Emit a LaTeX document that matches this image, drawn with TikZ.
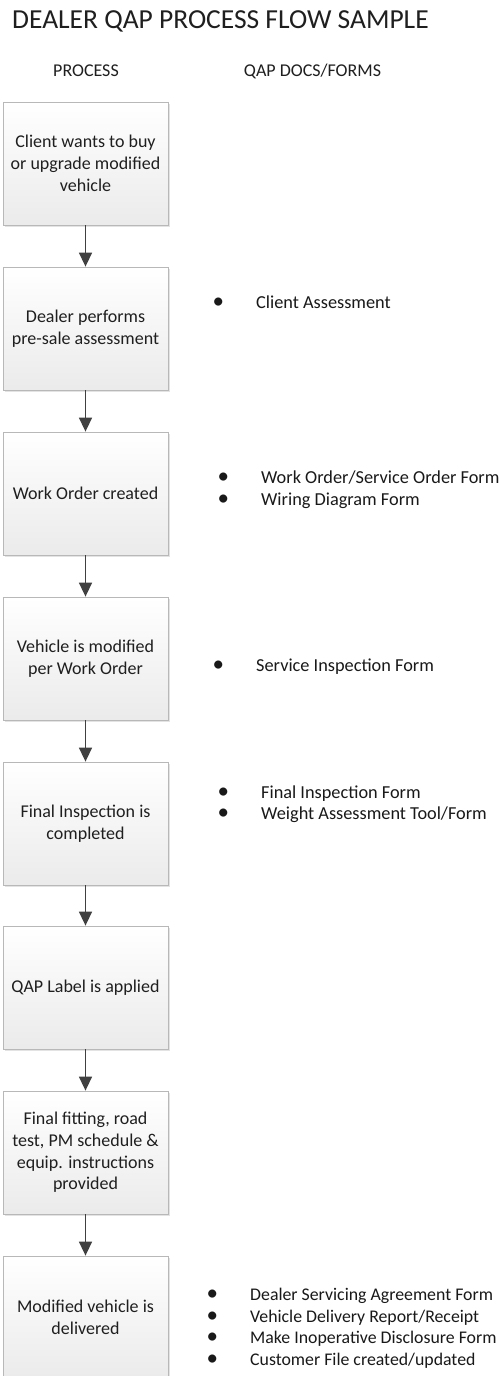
\documentclass[tikz,border=0pt]{standalone}
\usepackage{fontspec}
\setmainfont{Carlito}
\usetikzlibrary{arrows.meta,shadows}
\newcommand{\listbul}{{\fontsize{23}{21.7}\selectfont\textbullet}}
\begin{document}
\begin{tikzpicture}[x=1pt,y=-1pt,
  procbox/.style={draw=black!28, line width=0.8pt, top color=white, bottom color=black!8,
    minimum width=165pt, minimum height=123pt, inner sep=0pt, align=center,
    font=\fontsize{18}{21.7}\selectfont, text=black!88,
    drop shadow={shadow xshift=2pt, shadow yshift=-2pt, opacity=0.22}},
  flowarrow/.style={draw=black!75, line width=1.5pt, -{Triangle[width=13pt,length=14pt]}},
  doclist/.style={anchor=west, inner sep=0pt, font=\fontsize{18.3}{21.7}\selectfont, text=black!90},
  heading/.style={font=\fontsize{18}{21}\selectfont, text=black!88},
  titletext/.style={font=\fontsize{27.5}{32}\selectfont, text=black!88}]
\useasboundingbox (0,0) rectangle (500,1376);
\clip (0,0) rectangle (500,1376);
\fill[white] (0,0) rectangle (500,1376);

\node[titletext, anchor=base west, inner sep=0pt] (title) at (12,28.3) {DEALER QAP PROCESS FLOW SAMPLE};
\node[heading] (hproc) at (86,71) {PROCESS};
\node[heading] (hdocs) at (312.5,71) {QAP DOCS/FORMS};

\node[procbox] (b1) at (85.5,163.5) {Client wants to buy\\or upgrade modified\\vehicle};
\node[procbox] (b2) at (85.5,328.5) {Dealer performs\\pre-sale assessment};
\node[procbox] (b3) at (85.5,493.5) {Work Order created};
\node[procbox] (b4) at (85.5,658.5) {Vehicle is modified\\per Work Order};
\node[procbox] (b5) at (85.5,823.5) {Final Inspection is\\completed};
\node[procbox] (b6) at (85.5,987.5) {QAP Label is applied};
\node[procbox] (b7) at (85.5,1152.5) {Final fitting, road\\test, PM schedule \&\\equip. instructions\\provided};
\node[procbox] (b8) at (85.5,1317.5) {Modified vehicle is\\delivered};

\foreach \a/\b in {b1/b2,b2/b3,b3/b4,b4/b5,b5/b6,b6/b7,b7/b8}
  \draw[flowarrow] (\a) -- (\b);

\node[doclist] (l2) at (212.5,304) {\begin{tabular}{@{}p{43.5pt}@{}l@{}}\listbul & Client Assessment\end{tabular}};
\node[doclist] (l3) at (217.5,490.5) {\begin{tabular}{@{}p{43.5pt}@{}l@{}}\listbul & Work Order/Service Order Form\\ \listbul & Wiring Diagram Form\end{tabular}};
\node[doclist] (l4) at (212.5,667) {\begin{tabular}{@{}p{43.5pt}@{}l@{}}\listbul & Service Inspection Form\end{tabular}};
\node[doclist] (l5) at (217.5,804.5) {\begin{tabular}{@{}p{43.5pt}@{}l@{}}\listbul & Final Inspection Form\\ \listbul & Weight Assessment Tool/Form\end{tabular}};
\node[doclist, font=\fontsize{17.8}{21.7}\selectfont] (l8) at (206.5,1328.5) {\begin{tabular}{@{}p{43.5pt}@{}l@{}}\listbul & Dealer Servicing Agreement Form\\ \listbul & Vehicle Delivery Report/Receipt\\ \listbul & Make Inoperative Disclosure Form\\ \listbul & Customer File created/updated\end{tabular}};
\end{tikzpicture}
\end{document}
